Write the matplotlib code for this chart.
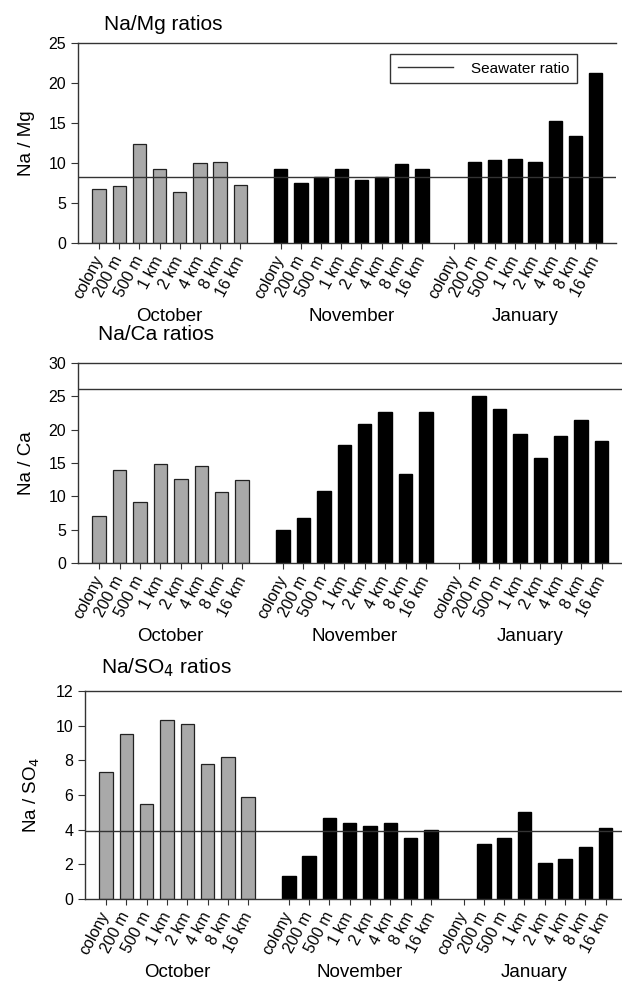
import numpy as np
import matplotlib
matplotlib.use('Agg')
import matplotlib.pyplot as plt

plt.rcParams['font.family'] = ['Liberation Sans', 'DejaVu Sans']

# Locais de amostragem e meses
sites = ['colony', '200 m', '500 m', '1 km', '2 km', '4 km', '8 km', '16 km']
months = ['October', 'November', 'January']

# Razões Na/Mg
na_mg_oct = [6.8, 7.1, 12.4, 9.2, 6.4, 10.0, 10.1, 7.3]
na_mg_nov = [9.2, 7.5, 8.2, 9.2, 7.9, 8.2, 9.9, 9.2]
na_mg_jan = [np.nan, 10.1, 10.4, 10.5, 10.1, 15.2, 13.4, 21.2]
na_mg_sea = 8.2

# Razões Na/Ca
na_ca_oct = [7.0, 14.0, 9.1, 14.8, 12.6, 14.5, 10.7, 12.5]
na_ca_nov = [5.0, 6.7, 10.8, 17.7, 20.8, 22.7, 13.4, 22.7]
na_ca_jan = [np.nan, 25.0, 23.1, 19.4, 15.7, 19.0, 21.5, 18.3]
na_ca_sea = 26.1

# Razões Na/SO4
na_so4_oct = [7.3, 9.5, 5.5, 10.3, 10.1, 7.8, 8.2, 5.9]
na_so4_nov = [1.3, 2.5, 4.7, 4.4, 4.2, 4.4, 3.5, 4.0]
na_so4_jan = [np.nan, 3.2, 3.5, 5.0, 2.1, 2.3, 3.0, 4.1]
na_so4_sea = 3.95

fig = plt.figure(figsize=(6.22, 9.82), dpi=100)

paineis = [
    dict(rect=[0.1254, 0.7525, 0.8646, 0.2037], oct=na_mg_oct, nov=na_mg_nov, jan=na_mg_jan,
         sea=na_mg_sea, ymax=25, step=5, ylabel='Na / Mg', title='Na/Mg ratios',
         tx=0.168, ty=1 - 25 / 982, xlim=(-1.04, 25.6), legend=True),
    dict(rect=[0.1254, 0.4267, 0.8746, 0.2037], oct=na_ca_oct, nov=na_ca_nov, jan=na_ca_jan,
         sea=na_ca_sea, ymax=30, step=5, ylabel='Na / Ca', title='Na/Ca ratios',
         tx=0.158, ty=1 - 335 / 982, xlim=(-1.04, 25.6), legend=False),
    dict(rect=[0.1367, 0.0845, 0.8633, 0.2118], oct=na_so4_oct, nov=na_so4_nov, jan=na_so4_jan,
         sea=na_so4_sea, ymax=12, step=2, ylabel='Na / SO$_4$', title='Na/SO$_4$ ratios',
         tx=0.163, ty=1 - 668 / 982, xlim=(-1.03, 25.4), legend=False),
]

pos_oct = np.arange(8)
pos_nov = np.arange(8) + 9
pos_jan = np.arange(8) + 17.6
largura = 0.66

for p in paineis:
    ax = fig.add_axes(p['rect'])
    ax.bar(pos_oct, p['oct'], width=largura, color='#a9a9a9', edgecolor='#222222', linewidth=0.9, zorder=2)
    ax.bar(pos_nov, p['nov'], width=largura, color='black', edgecolor='black', zorder=2)
    ax.bar(pos_jan, p['jan'], width=largura, color='black', edgecolor='black', zorder=2)
    ax.axhline(p['sea'], color='#333333', linewidth=1.0, zorder=3, label='Seawater ratio')

    ax.set_xlim(*p['xlim'])
    ax.set_ylim(0, p['ymax'])
    ax.set_yticks(np.arange(0, p['ymax'] + 0.1, p['step']))
    todas = np.concatenate([pos_oct, pos_nov, pos_jan])
    ax.set_xticks(todas)
    ax.set_xticklabels(sites * 3, rotation=62, ha='right', va='center', rotation_mode='anchor')
    ax.tick_params(axis='x', direction='out', length=4, pad=6, labelsize=11.5, color='#333333')
    ax.tick_params(axis='y', direction='out', length=5, labelsize=11.5, color='#333333')
    ax.spines['right'].set_visible(False)
    for s in ['left', 'bottom', 'top']:
        ax.spines[s].set_color('#333333')
        ax.spines[s].set_linewidth(1.0)

    ax.set_ylabel(p['ylabel'], fontsize=13.5, labelpad=10)
    for nome, pos in zip(months, [pos_oct, pos_nov, pos_jan]):
        ax.annotate(nome, xy=(pos.mean(), 0), xycoords=('data', 'axes fraction'),
                    xytext=(0, -53), textcoords='offset points', ha='center', va='center', fontsize=13.5)
    fig.text(p['tx'], p['ty'], p['title'], ha='left', va='center', fontsize=15)

    if p['legend']:
        ax.legend(loc='upper right', bbox_to_anchor=(577 / 622, 1 - 54 / 982),
                  bbox_transform=fig.transFigure, borderaxespad=0, fancybox=False,
                  edgecolor='#333333', framealpha=1, fontsize=11, handlelength=3.6,
                  borderpad=0.5, handletextpad=1.2)

fig.savefig('out.png', dpi=100)
